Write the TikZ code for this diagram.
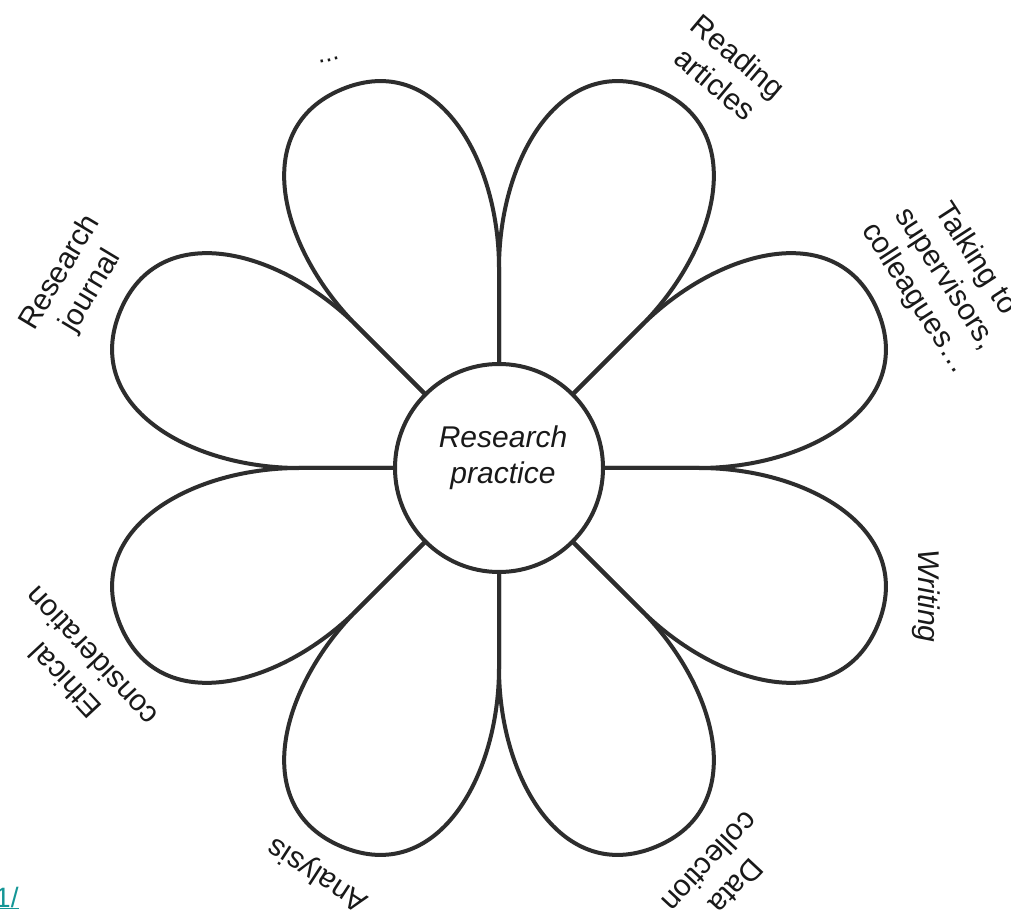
\documentclass[tikz,border=0pt]{standalone}
\usepackage{fontspec}
\setmainfont{Liberation Sans}
\definecolor{ink}{RGB}{45,45,45}
\definecolor{txt}{RGB}{25,25,25}
\definecolor{linkteal}{RGB}{20,150,150}
\begin{document}
\begin{tikzpicture}[x=1pt,y=1pt,
  petal/.style={draw=ink, line width=4pt, line join=round},
  lbl/.style={text=txt, align=center, font=\fontsize{30}{36}\selectfont, inner sep=0pt},
  hub/.style={circle, draw=ink, line width=4pt, fill=white, minimum size=208pt, inner sep=0pt}]
\useasboundingbox (0,0) rectangle (1011,916);
\fill[white] (0,0) rectangle (1011,916);
\coordinate (O) at (499,448);
% petals
\foreach \a in {0,45,...,315}{
  \draw[petal, shift={(499,448)}, rotate=\a+22.5]
    (-22.5:104) -- (-22.5:200) .. controls (-22.5:310) and (410,-102) .. (410,0)
    .. controls (410,102) and (22.5:310) .. (22.5:200) -- (22.5:104);
}
% centre
\node[hub] (hubc) at (O) {};
\node[lbl, font=\fontsize{30}{36}\selectfont\itshape] (ctext) at (503,458) {Research\\practice};
% labels
\node[lbl, font=\fontsize{26}{30}\selectfont, rotate=12] (ldots) at (329,856) {...};
\node[lbl, rotate=-40] (lread) at (727,846) {Reading\\articles};
\node[lbl, rotate=-57] (ltalk) at (945,637) {Talking to\\supervisors,\\colleagues\dots};
\node[lbl, font=\fontsize{30}{36}\selectfont\itshape, rotate=-90] (lwrite) at (926,320) {Writing};
\node[lbl, rotate=-133] (ldata) at (723,42) {Data\\collection};
\node[lbl, rotate=147] (lanal) at (318,42) {Analysis};
\node[lbl, rotate=133] (leth) at (78,247) {Ethical\\consideration};
\node[lbl, rotate=59] (ljour) at (76,634) {Research\\journal};
\node[text=linkteal, font=\fontsize{28}{30}\selectfont, inner sep=0pt, anchor=base west] (llink) at (-5,9) {\underline{1/}};
\end{tikzpicture}
\end{document}
